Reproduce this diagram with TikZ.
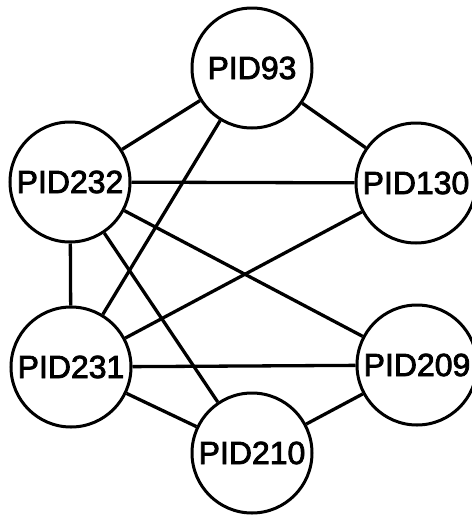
\documentclass[tikz,border=0pt]{standalone}
\usepackage{fontspec}
\newfontfamily\pidfont{Liberation Sans}[FakeBold=2.5]
\usetikzlibrary{positioning}

\begin{document}
\begin{tikzpicture}[x=1pt,y=-1pt,
  pid/.style={circle,draw,line width=3pt,minimum size=120pt,inner sep=0pt,font=\pidfont\fontsize{32}{32}\selectfont},
  link/.style={line width=3.3pt}]
\useasboundingbox (0,0) rectangle (472,515);
\node[pid] (p93)  at (252,68)  {PID93};
\node[pid] (p232) at (70,182)  {PID232};
\node[pid] (p130) at (416,183) {PID130};
\node[pid] (p231) at (71,367)  {PID231};
\node[pid] (p209) at (417,365) {PID209};
\node[pid] (p210) at (252,453) {PID210};
% links between processes
\draw[link] (p93) -- (p232);
\draw[link] (p93) -- (p130);
\draw[link] (p93) -- (p231);
\draw[link] (p232) -- (p130);
\draw[link] (p232) -- (p209);
\draw[link] (p232) -- (p231);
\draw[link] (p232) -- (p210);
\draw[link] (p130) -- (p231);
\draw[link] (p231) -- (p209);
\draw[link] (p231) -- (p210);
\draw[link] (p210) -- (p209);
\end{tikzpicture}
\end{document}
